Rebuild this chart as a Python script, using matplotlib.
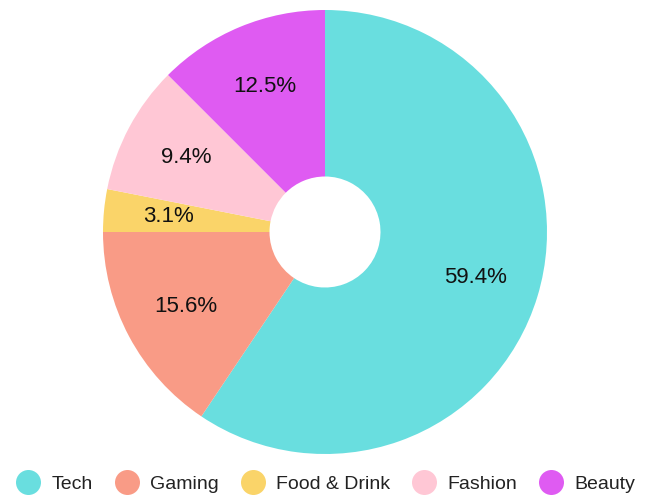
import matplotlib
matplotlib.use("Agg")
import matplotlib.pyplot as plt
from matplotlib.lines import Line2D

plt.rcParams['font.family'] = ['Liberation Sans', 'DejaVu Sans']

# Share of content by category
categories = ['Tech', 'Gaming', 'Food & Drink', 'Fashion', 'Beauty']
shares = [59.4, 15.6, 3.1, 9.4, 12.5]
colors = ['#69DEDF', '#F99B86', '#FAD469', '#FFC7D5', '#DF5BF2']

fig = plt.figure(figsize=(6.47, 4.99), dpi=100)
ax = fig.add_axes([(325 - 222) / 647, (499 - 454) / 499, 444 / 647, 444 / 499])

wedges, texts, autotexts = ax.pie(
    shares, colors=colors, startangle=90, counterclock=False,
    autopct='%1.1f%%', pctdistance=0.71, radius=1.0,
    wedgeprops=dict(width=0.75, edgecolor='none', linewidth=0),
    textprops=dict(fontsize=16, color='#111111'))
ax.set_xlim(-1, 1)
ax.set_ylim(-1, 1)
ax.set_aspect('equal')
ax.axis('off')

handles = [Line2D([0], [0], marker='o', linestyle='none', markersize=18,
                  markerfacecolor=c, markeredgecolor='none') for c in colors]
fig.legend(handles, categories, loc='center', bbox_to_anchor=(0.505, (499 - 484) / 499),
           ncol=5, frameon=False, fontsize=14, handlelength=1.0,
           handletextpad=0.69, columnspacing=1.25, labelcolor='#222222')

fig.savefig('out.png', dpi=100, facecolor='white')
